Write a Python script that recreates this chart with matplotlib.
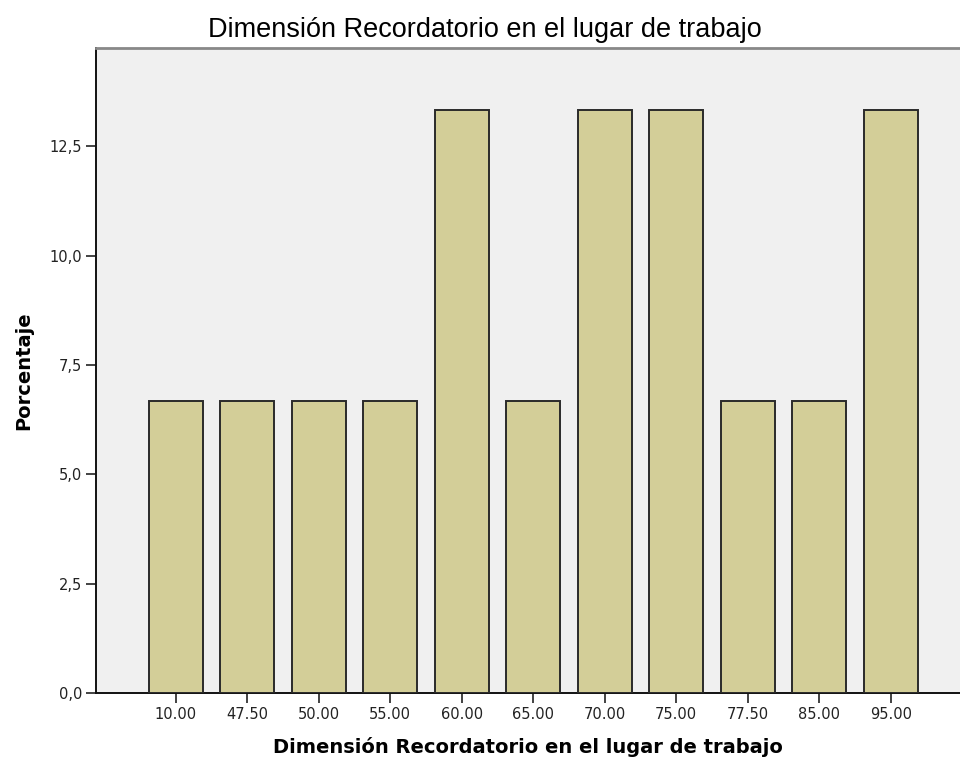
import matplotlib
matplotlib.use("Agg")
import matplotlib.pyplot as plt
import numpy as np

categories = ["10.00", "47.50", "50.00", "55.00", "60.00", "65.00", "70.00", "75.00", "77.50", "85.00", "95.00"]
percentages = [6.67, 6.67, 6.67, 6.67, 13.33, 6.67, 13.33, 13.33, 6.67, 6.67, 13.33]
y_ticks = [0.0, 2.5, 5.0, 7.5, 10.0, 12.5]
y_tick_labels = ["0,0", "2,5", "5,0", "7,5", "10,0", "12,5"]

title = "Dimensión Recordatorio en el lugar de trabajo"
xlabel = "Dimensión Recordatorio en el lugar de trabajo"
ylabel = "Porcentaje"

fig = plt.figure(figsize=(9.6, 7.65), dpi=100)
ax = fig.add_axes([0.1, 0.0941, 0.9, 0.8432])
ax.set_facecolor("#F0F0F0")

x = np.arange(len(categories))
ax.bar(x, percentages, width=0.755, color="#D3CE98", edgecolor="#2a2a2a", linewidth=1.4, zorder=3)

ax.set_xlim(-1.115, 10.97)
ax.set_ylim(0, 14.75)
ax.set_xticks(x)
ax.set_xticklabels(categories, fontsize=10.5, color="#222222", family="DejaVu Sans")
ax.set_yticks(y_ticks)
ax.set_yticklabels(y_tick_labels, fontsize=10.5, color="#222222", family="DejaVu Sans")
ax.tick_params(axis="both", length=7, width=1.2, color="#222222", pad=3)

for side in ["left", "bottom"]:
    ax.spines[side].set_color("#111111")
    ax.spines[side].set_linewidth(1.4)
ax.spines["right"].set_visible(False)
ax.spines["top"].set_color("#888888")
ax.spines["top"].set_linewidth(2)

ax.set_xlabel(xlabel, fontsize=14, fontweight="bold", family="DejaVu Sans", labelpad=11)
ax.set_ylabel(ylabel, fontsize=14, fontweight="bold", family="DejaVu Sans", labelpad=12)
fig.text(0.505, 0.951, title, ha="center", va="baseline", fontsize=19.5, family="Liberation Sans")

fig.savefig("out.png", dpi=100)
